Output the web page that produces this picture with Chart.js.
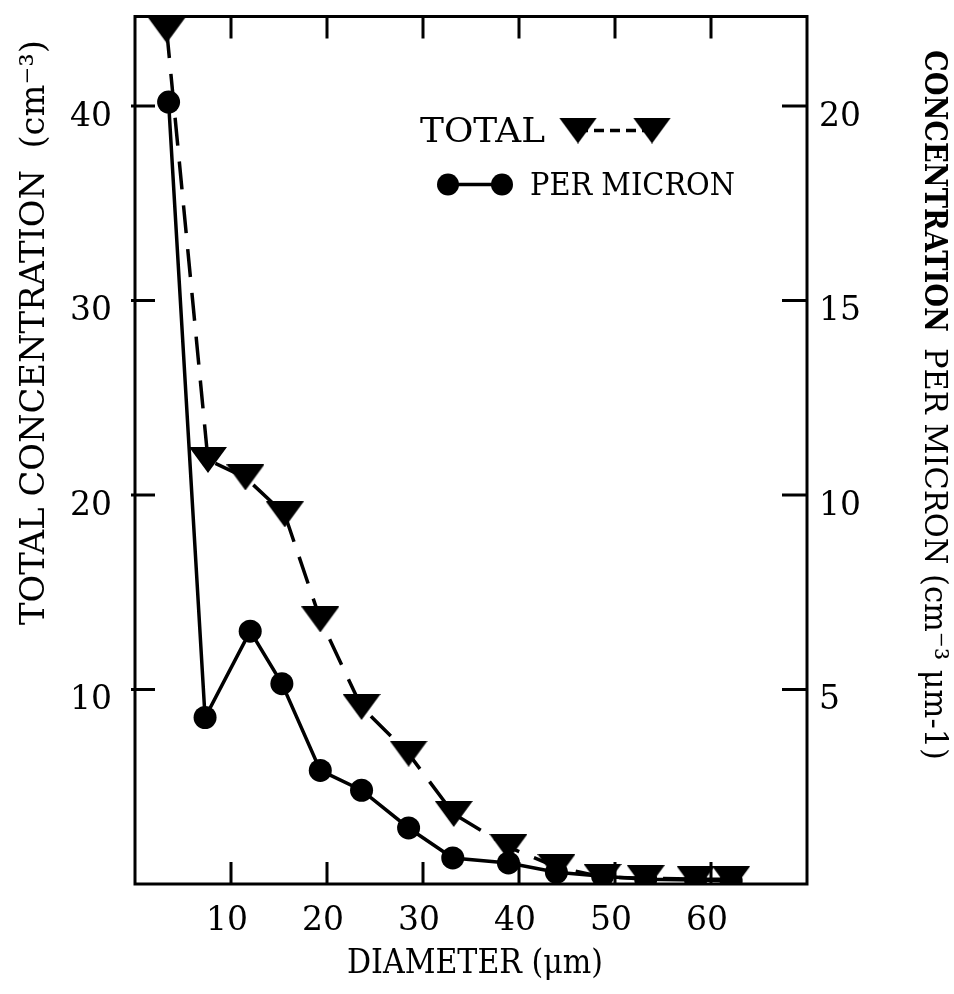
<!DOCTYPE html>
<html>
<head>
<meta charset="utf-8">
<script src="https://cdn.jsdelivr.net/npm/chart.js@4"></script>
<style>
  body { margin: 0; background: #fff; }
  canvas { display: block; }
</style>
</head>
<body>
<canvas id="chart" width="954" height="994"></canvas>
<script>
// values
var totalDiameter = [3.3, 7.6, 11.5, 15.6, 19.3, 23.6, 28.5, 33.2, 38.9, 43.9, 48.7, 53.2, 58.4, 62.1];
var totalConc = [43.9, 21.8, 20.9, 19.0, 13.6, 9.1, 6.7, 3.6, 1.9, 0.87, 0.36, 0.3, 0.25, 0.25];
var perMicronDiameter = [3.5, 7.3, 12.0, 15.3, 19.3, 23.6, 28.5, 33.1, 38.9, 43.9, 48.7, 53.2, 58.4, 62.1];
var perMicronConc = [20.1, 4.28, 6.5, 5.15, 2.92, 2.41, 1.44, 0.67, 0.54, 0.3, 0.2, 0.12, 0.1, 0.08];

var xTicks = [10, 20, 30, 40, 50, 60];
var leftTicks = [10, 20, 30, 40];
var rightTicks = [5, 10, 15, 20];

var FONT = "'DejaVu Serif', 'Liberation Serif', serif";

// flattened down-pointing triangle
function makeTri(w, h){
	var c = document.createElement("canvas");
	c.width = w; c.height = h;
	var g = c.getContext("2d");
	g.fillStyle = "#000";
	g.beginPath();
	g.moveTo(0, 0); g.lineTo(w, 0); g.lineTo(w/2, h);
	g.closePath();
	g.fill();
	return c;
}
var tri = makeTri(38, 26);

function toPoints(xs, ys){
	var out = [];
	for(var i=0;i<xs.length;i++){
		out.push({x: xs[i], y: ys[i]});
	}
	return out;
}

// typewriter text is narrow, so squeeze it to the width seen in the reference
function fitText(ctx, text, x, y, width){
	var w = ctx.measureText(text).width;
	ctx.save();
	ctx.translate(x, y);
	ctx.scale(width / w, 1);
	ctx.fillText(text, 0, 0);
	ctx.restore();
}

var frame = {
	id: "frame",
	afterDraw: function(chart){
		var ctx = chart.ctx;
		var a = chart.chartArea;
		var sx = chart.scales.x, sy = chart.scales.y, sy2 = chart.scales.y2;
		ctx.save();
		ctx.strokeStyle = "#000";
		ctx.fillStyle = "#000";
		ctx.lineWidth = 3;
		ctx.strokeRect(a.left, a.top, a.right - a.left, a.bottom - a.top);

		// inward ticks
		ctx.beginPath();
		xTicks.forEach(function(v){
			var px = sx.getPixelForValue(v);
			ctx.moveTo(px, a.bottom); ctx.lineTo(px, a.bottom - 22);
			ctx.moveTo(px, a.top); ctx.lineTo(px, a.top + 22);
		});
		leftTicks.forEach(function(v){
			var py = sy.getPixelForValue(v);
			ctx.moveTo(a.left - 4, py); ctx.lineTo(a.left + 20, py);
		});
		rightTicks.forEach(function(v){
			var py = sy2.getPixelForValue(v);
			ctx.moveTo(a.right, py); ctx.lineTo(a.right - 25, py);
		});
		ctx.stroke();

		// axis titles
		ctx.textBaseline = "middle";
		ctx.textAlign = "left";
		ctx.font = "34px " + FONT;
		fitText(ctx, "DIAMETER (\u03bcm)", 347, a.bottom + 80, 256);

		ctx.save();
		ctx.translate(35, 625);
		ctx.rotate(-Math.PI/2);
		ctx.font = "34px " + FONT;
		fitText(ctx, "TOTAL CONCENTRATION  (cm\u207b\u00b3)", 0, 0, 585);
		ctx.restore();

		ctx.save();
		ctx.translate(933, 50);
		ctx.rotate(Math.PI/2);
		ctx.font = "bold 32px " + FONT;
		fitText(ctx, "CONCENTRATION", 0, 0, 282);
		ctx.font = "32px " + FONT;
		fitText(ctx, "PER MICRON (cm\u207b\u00b3 \u03bcm-1)", 298, 0, 412);
		ctx.restore();

		// legend
		var lx = a.left, ly = a.top;
		ctx.font = "34px " + FONT;
		fitText(ctx, "TOTAL", lx + 285, ly + 117, 125);
		ctx.lineWidth = 3.5;
		ctx.setLineDash([10, 6]);
		ctx.beginPath();
		ctx.moveTo(lx + 443, ly + 114); ctx.lineTo(lx + 517, ly + 114);
		ctx.stroke();
		ctx.setLineDash([]);
		ctx.drawImage(tri, lx + 443 - 19, ly + 114 - 13);
		ctx.drawImage(tri, lx + 517 - 19, ly + 114 - 13);

		ctx.beginPath();
		ctx.moveTo(lx + 313, ly + 168); ctx.lineTo(lx + 367, ly + 168);
		ctx.stroke();
		[313, 367].forEach(function(dx){
			ctx.beginPath();
			ctx.arc(lx + dx, ly + 168, 11, 0, Math.PI*2);
			ctx.fill();
		});
		ctx.font = "32px " + FONT;
		fitText(ctx, "PER MICRON", lx + 395, ly + 170, 205);
		ctx.restore();
	}
};

function noPad(scale){
	scale.paddingTop = 0;
	scale.paddingBottom = 0;
	scale.paddingLeft = 0;
	scale.paddingRight = 0;
}

new Chart(document.getElementById("chart"), {
	type: "scatter",
	data: {
		datasets: [{
			label: "TOTAL",
			data: toPoints(totalDiameter, totalConc),
			yAxisID: "y",
			showLine: true,
			borderColor: "#000",
			backgroundColor: "#000",
			borderWidth: 3.5,
			borderDash: [28, 16],
			pointStyle: tri,
			pointRadius: 13
		}, {
			label: "PER MICRON",
			data: toPoints(perMicronDiameter, perMicronConc),
			yAxisID: "y2",
			showLine: true,
			borderColor: "#000",
			backgroundColor: "#000",
			borderWidth: 3.5,
			pointStyle: "circle",
			pointRadius: 11.5,
			pointBorderWidth: 0
		}]
	},
	options: {
		responsive: false,
		animation: false,
		layout: { padding: { top: 14 } },
		plugins: {
			legend: { display: false },
			tooltip: { enabled: false }
		},
		scales: {
			x: {
				type: "linear",
				min: 0, max: 70,
				grid: { display: false, drawTicks: false },
				border: { display: false },
				ticks: {
					stepSize: 10,
					includeBounds: false,
					padding: 18,
					labelOffset: -4,
					color: "#000",
					font: { family: FONT, size: 33 },
					callback: function(v){ return (v > 0 && v < 70) ? v : ""; }
				},
				afterFit: function(s){ s.height = 110; noPad(s); }
			},
			y: {
				position: "left",
				min: 0, max: 44.6,
				grid: { display: false, drawTicks: false },
				border: { display: false },
				ticks: {
					stepSize: 10,
					includeBounds: false,
					padding: 23,
					labelOffset: 11,
					color: "#000",
					font: { family: FONT, size: 33 },
					callback: function(v){ return v > 0 ? v : ""; }
				},
				afterFit: function(s){ s.width = 135; noPad(s); }
			},
			y2: {
				position: "right",
				min: 0, max: 22.3,
				grid: { display: false, drawTicks: false },
				border: { display: false },
				ticks: {
					stepSize: 5,
					includeBounds: false,
					padding: 12,
					labelOffset: 11,
					color: "#000",
					font: { family: FONT, size: 33 },
					callback: function(v){ return v > 0 ? v : ""; }
				},
				afterFit: function(s){ s.width = 147; noPad(s); }
			}
		}
	},
	plugins: [frame]
});
</script>
</body>
</html>
